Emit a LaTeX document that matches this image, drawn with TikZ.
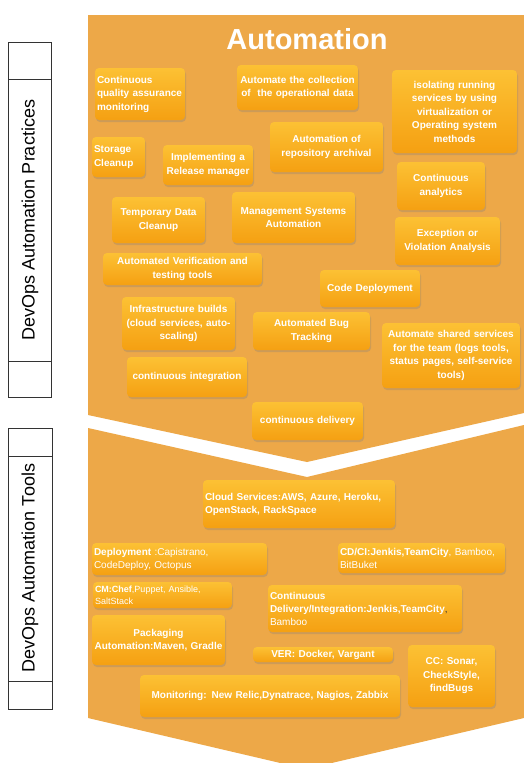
\documentclass[tikz,border=0pt]{standalone}
\usepackage{fontspec}
\setmainfont{Liberation Sans}
\usetikzlibrary{shadows}

\definecolor{bgorange}{RGB}{237,168,72}
\definecolor{boxtop}{RGB}{252,193,52}
\definecolor{boxbot}{RGB}{245,160,18}

\tikzset{
    autobox/.style={rounded corners=4pt, top color=boxtop, bottom color=boxbot, text=white,
        inner xsep=2pt, inner ysep=1pt, align=center, font=\bfseries\fontsize{10}{13.5}\selectfont,
        drop shadow={opacity=0.3, shadow xshift=1pt, shadow yshift=-2pt}},
    toolbox/.style={autobox, align=left, font=\fontsize{10}{13}\selectfont},
    sidebox/.style={draw=black!80, line width=0.8pt},
    sidetext/.style={rotate=90, font=\fontsize{18}{20}\selectfont},
}

\begin{document}
\begin{tikzpicture}[x=1pt, y=-1pt]
    \useasboundingbox (0,0) rectangle (524,763);
    \fill[white] (0,0) rectangle (524,763);
    \clip (0,0) rectangle (524,763);

    % left labels
    \draw[sidebox] (8,42) rectangle (51,397);
    \draw[sidebox] (8,79) -- (51,79);
    \draw[sidebox] (8,361) -- (51,361);
    \node[sidetext] (practices) at (30,220) {DevOps Automation Practices};

    \draw[sidebox] (8,428) rectangle (52,709);
    \draw[sidebox] (8,456) -- (52,456);
    \draw[sidebox] (8,681) -- (52,681);
    \node[sidetext] (tools) at (30,568) {DevOps Automation Tools};

    % chevrons
    \fill[bgorange] (88,15) -- (524,15) -- (524,413) -- (307,462) -- (88,415) -- cycle;
    \fill[bgorange] (88,428) -- (307,477) -- (524,425) -- (524,718) -- (306,769) -- (88,718) -- cycle;

    \node[text=white, font=\bfseries\fontsize{29}{32}\selectfont] (title) at (307,39) {Automation};

    % practices
    \node[autobox, align=left, text width=86pt, minimum height=52pt] (quality) at (140,94) {Continuous\\quality assurance\\monitoring};
    \node[autobox, text width=117pt, minimum height=45pt] (opdata) at (297.5,87.5) {Automate the collection\\of~ the operational data};
    \node[autobox, text width=121pt, minimum height=83pt] (isolating) at (454.5,111.5) {isolating running\\services by using\\virtualization or\\Operating system\\methods};
    \node[autobox, align=left, text width=49pt, minimum height=40pt] (storage) at (118.5,157) {Storage\\Cleanup};
    \node[autobox, text width=86pt, minimum height=40pt] (release) at (208,165) {Implementing a\\Release manager};
    \node[autobox, text width=109pt, minimum height=50pt] (archival) at (326.5,147) {Automation of\\repository archival};
    \node[autobox, text width=84pt, minimum height=48pt] (analytics) at (441,186) {Continuous\\analytics};
    \node[autobox, text width=89pt, minimum height=46pt] (tempdata) at (158.5,220) {Temporary Data\\Cleanup};
    \node[autobox, text width=119pt, minimum height=51pt] (mgmt) at (293.5,217.5) {Management Systems\\Automation};
    \node[autobox, text width=101pt, minimum height=48pt] (exception) at (447.5,241) {Exception or\\Violation Analysis};
    \node[autobox, text width=155pt, minimum height=32pt] (verify) at (182.5,269) {Automated Verification and\\testing tools};
    \node[autobox, text width=96pt, minimum height=37pt] (codedeploy) at (370,288.5) {Code Deployment};
    \node[autobox, text width=109pt, minimum height=53pt] (infra) at (178.5,323.5) {Infrastructure builds\\(cloud services, auto-\\scaling)};
    \node[autobox, text width=113pt, minimum height=38pt] (bugs) at (311.5,331) {Automated Bug\\Tracking};
    \node[autobox, text width=134pt, minimum height=65pt] (shared) at (451,355.5) {Automate shared services\\for the team (logs tools,\\status pages, self-service\\tools)};
    \node[autobox, text width=116pt, minimum height=40pt] (integration) at (187,377) {continuous integration};
    \node[autobox, text width=107pt, minimum height=38pt] (delivery) at (307.5,421) {continuous delivery};

    % tools
    \node[toolbox, text width=188pt, minimum height=48pt] (cloud) at (299,504) {\textbf{Cloud Services:AWS, Azure, Heroku,}\\\textbf{OpenStack, RackSpace}};
    \node[toolbox, text width=171pt, minimum height=32pt] (deploy) at (179.5,559) {\textbf{Deployment} :Capistrano,\\CodeDeploy, Octopus};
    \node[toolbox, text width=163pt, minimum height=30pt] (cdci) at (421.5,558) {\textbf{CD/CI:Jenkis,TeamCity}, Bamboo,\\BitBuket};
    \node[toolbox, font=\fontsize{9}{12}\selectfont, text width=135pt, minimum height=26pt] (cm) at (162.5,595) {\textbf{CM:Chef},Puppet, Ansible,\\SaltStack};
    \node[toolbox, text width=190pt, minimum height=47pt] (contdel) at (365,608.5) {\textbf{Continuous}\\\textbf{Delivery/Integration:Jenkis,TeamCity}\textcolor{black!80}{,}\\Bamboo};
    \node[autobox, text width=129pt, minimum height=50pt] (packaging) at (158.5,640) {Packaging\\Automation:Maven, Gradle};
    \node[autobox, text width=136pt, minimum height=15pt] (ver) at (323,654.5) {VER: Docker, Vargant};
    \node[autobox, text width=83pt, minimum height=62pt] (cc) at (451.5,676) {CC: Sonar,\\CheckStyle,\\findBugs};
    \node[autobox, text width=256pt, minimum height=42pt] (monitoring) at (270,696) {Monitoring: New Relic,Dynatrace, Nagios, Zabbix};

\end{tikzpicture}
\end{document}
